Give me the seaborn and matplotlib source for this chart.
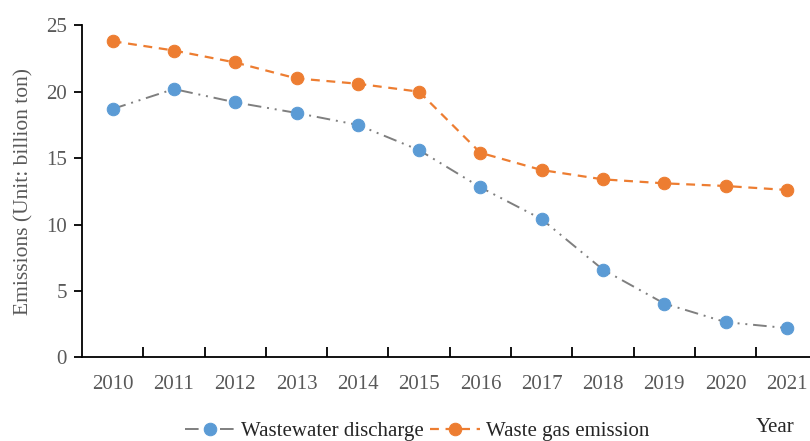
"""Wastewater and waste gas emissions, 2010-2021."""

import matplotlib
matplotlib.use("Agg")
import matplotlib.pyplot as plt
import numpy as np
import pandas as pd
import seaborn as sns

# ---------------------------------------------------------------------------
# Data
# ---------------------------------------------------------------------------

years = ["2010", "2011", "2012", "2013", "2014", "2015",
         "2016", "2017", "2018", "2019", "2020", "2021"]
wastewater = [18.7, 20.2, 19.2, 18.4, 17.5, 15.6, 12.8, 10.4, 6.6, 4.05, 2.65, 2.2]
waste_gas = [23.8, 23.1, 22.2, 21.0, 20.6, 20.0, 15.4, 14.1, 13.4, 13.1, 12.9, 12.6]
y_ticks = [0, 5, 10, 15, 20, 25]

BLUE = "#5B9BD5"
ORANGE = "#ED7D31"
GRAY = "#7F7F7F"
TEXT = "#595959"

sns.set_style("ticks")
plt.rcParams["font.family"] = ["Liberation Serif", "DejaVu Serif"]

df = pd.DataFrame({"Year": years, "Wastewater": wastewater, "Gas": waste_gas})

fig = plt.figure(figsize=(8.1, 4.41), dpi=100)
ax = fig.add_axes([82 / 810, 1 - 357.3 / 441, 735.5 / 810, 332 / 441])

sns.lineplot(data=df, x="Year", y="Wastewater", ax=ax, color=GRAY,
             linestyle=(0, (7, 3, 1, 3, 1, 3)), linewidth=1.4,
             marker="o", markersize=9, markerfacecolor=BLUE,
             markeredgecolor=BLUE, label="Wastewater discharge")
sns.lineplot(data=df, x="Year", y="Gas", ax=ax, color=ORANGE,
             linestyle=(0, (4, 3)), linewidth=1.6,
             marker="o", markersize=9, markerfacecolor=ORANGE,
             markeredgecolor=ORANGE, label="Waste gas emission")

ax.set_xlim(-0.5, 11.5)
ax.set_ylim(0, 25)
ax.set_yticks(y_ticks)
ax.set_xticks(np.arange(len(years)))
ax.set_xticklabels(years)
ax.set_xticks(np.arange(len(years) - 1) + 0.5, minor=True)

ax.tick_params(axis="x", which="major", length=0, pad=13,
               labelsize=15, labelcolor=TEXT)
ax.tick_params(axis="x", which="minor", direction="in", length=7,
               width=1.3, color="black")
ax.tick_params(axis="y", direction="out", length=6, width=1.3, pad=5,
               labelsize=15, labelcolor=TEXT, color="black")

for side in ["top", "right"]:
    ax.spines[side].set_visible(False)
for side in ["left", "bottom"]:
    ax.spines[side].set_linewidth(1.3)
    ax.spines[side].set_color("black")

ax.set_xlabel("")
ax.set_ylabel("Emissions (Unit: billion ton)", fontsize=15.5, color=TEXT)
ax.yaxis.set_label_coords(-0.066, 0.5)

ax.get_legend().remove()
handles, labels = ax.get_legend_handles_labels()
fig.legend(handles, labels, loc="center left",
           bbox_to_anchor=(166 / 810, 1 - 431 / 441), ncol=2,
           frameon=False, fontsize=15, handlelength=2.4,
           handletextpad=0.3, columnspacing=0.3, labelcolor="#262626")

fig.text(775 / 810, 1 - 427 / 441, "Year", fontsize=15, color="#262626",
         ha="center", va="center")

fig.savefig("out.png", dpi=100)
